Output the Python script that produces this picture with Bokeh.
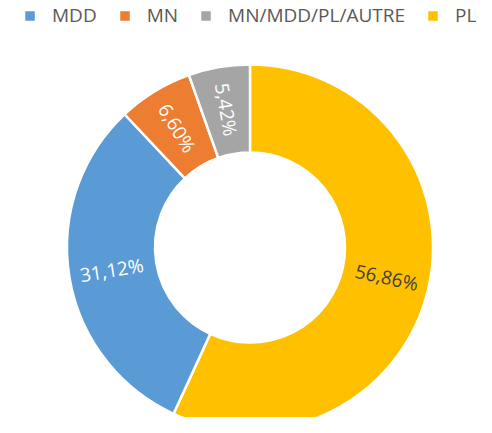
import math
from bokeh.plotting import figure
from bokeh.models import Range1d, ColumnDataSource, Legend, LegendItem
from bokeh.core.properties import value
from bokeh.embed import file_html
from bokeh.resources import INLINE

categories = ["PL", "MDD", "MN", "MN/MDD/PL/AUTRE"]
shares = [56.86, 31.12, 6.60, 5.42]
colors = ["#FFC000", "#5B9BD5", "#ED7D31", "#A5A5A5"]
label_colors = ["#404040", "#FFFFFF", "#FFFFFF", "#FFFFFF"]
legend_order = ["MDD", "MN", "MN/MDD/PL/AUTRE", "PL"]

W, H = 476, 417
SCREEN_H = 433
cx, cy = 249.5, SCREEN_H - 247
r_out, r_in = 183, 95
r_mid = (r_out + r_in) / 2 + 1

total = sum(shares)
starts, ends, lx, ly, la, texts = [], [], [], [], [], []
cum = 0.0
for v in shares:
    s = math.pi / 2 - 2 * math.pi * cum / total
    cum += v
    e = math.pi / 2 - 2 * math.pi * cum / total
    starts.append(s)
    ends.append(e)
    m = (s + e) / 2
    lx.append(cx + r_mid * math.cos(m))
    ly.append(cy + r_mid * math.sin(m))
    a = m + math.pi if math.cos(m) < 0 else m
    la.append(a)
    texts.append(f"{v:.2f}".replace(".", ",") + "%")

src = ColumnDataSource(dict(cat=categories, start=starts, end=ends, color=colors,
                            x=lx, y=ly, angle=la, text=texts, tcolor=label_colors))

p = figure(width=W, height=H, output_backend="svg", toolbar_location=None,
           x_range=Range1d(0, W), y_range=Range1d(SCREEN_H - H, SCREEN_H), min_border=0)
p.axis.visible = False
p.grid.visible = False
p.outline_line_color = None
p.background_fill_color = "white"

r = p.annular_wedge(x=cx, y=cy, inner_radius=r_in, outer_radius=r_out,
                    start_angle="start", end_angle="end", direction="clock",
                    fill_color="color", line_color="white", line_width=2.5, source=src)

p.text(x="x", y="y", text="text", angle="angle", text_color="tcolor",
       text_align="center", text_baseline="middle", text_font=value("Open Sans"),
       text_font_size="19px", source=src)

items = [LegendItem(label=c, renderers=[r], index=categories.index(c)) for c in legend_order]
legend = Legend(items=items, orientation="horizontal", location=(22, H - 28),
                glyph_width=15, glyph_height=15, label_standoff=15, spacing=20,
                label_text_font="Open Sans", label_text_font_size="19px",
                label_text_color="#595959", border_line_color=None,
                background_fill_alpha=0, padding=0, margin=0,
                label_height=20, label_text_baseline="middle")
p.add_layout(legend, "center")

open("out.html", "w").write(file_html(p, INLINE))
